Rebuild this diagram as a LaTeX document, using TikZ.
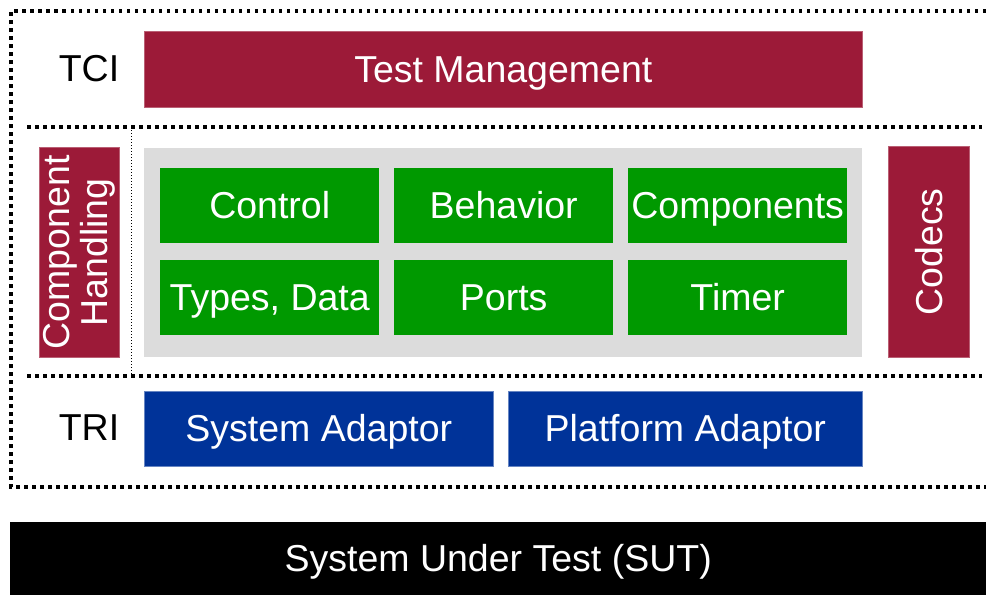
\documentclass[tikz,border=0pt]{standalone}
\usepackage{fontspec}
\setmainfont{Liberation Sans}
\definecolor{maroon}{HTML}{9C1A38}
\definecolor{tgreen}{HTML}{009900}
\definecolor{tblue}{HTML}{003399}
\definecolor{tgray}{HTML}{DCDCDC}
\begin{document}
\begin{tikzpicture}[x=1pt,y=-1pt,
  txt/.style={font=\fontsize{37.5}{39}\selectfont},
  mbox/.style={txt,text=white,inner sep=0pt,anchor=north west,text height=33pt,text depth=7pt},
  redbox/.style={mbox,fill=maroon,draw=maroon!70!white,line width=0.6pt},
  greenbox/.style={mbox,fill=tgreen,minimum width=219pt,minimum height=75pt},
  bluebox/.style={mbox,fill=tblue,draw=tblue!60!white,line width=0.6pt,minimum height=75pt},
  bigdots/.style={line width=3.5pt,dash pattern=on 3.5pt off 4.5pt},
  smalldots/.style={line width=1pt,dash pattern=on 1pt off 2pt}]
\useasboundingbox (0,0) rectangle (986,595);
% outer dotted frame
\coordinate (o1) at (986,11);
\coordinate (o2) at (11,11);
\coordinate (o3) at (11,487);
\coordinate (o4) at (986,487);
\draw[bigdots] (o1) -- (o2) -- (o3) -- (o4);
% inner separators
\coordinate (s1a) at (27,127);
\coordinate (s1b) at (982,127);
\coordinate (s2a) at (27,376);
\coordinate (s2b) at (982,376);
\coordinate (v1) at (131,127);
\coordinate (v2) at (131,376);
\draw[bigdots] (s1a) -- (s1b);
\draw[bigdots] (s2a) -- (s2b);
\draw[smalldots] (v1) -- (v2);
% TCI
\node[txt] (tci) at (89,69) {TCI};
\node[redbox,minimum width=718pt,minimum height=76pt] (tm) at (144,31) {Test Management};
% middle
\node[redbox,minimum width=80pt,minimum height=210pt,text height=0pt,text depth=0pt] (ch) at (38.5,147) {};
\node[txt,text=white,rotate=90,align=center,font=\fontsize{37.5}{38}\selectfont] (chl) at (ch.center) {Component\\Handling};
\node[mbox,fill=tgray,minimum width=718pt,minimum height=209pt,text height=0pt,text depth=0pt] (gray) at (144,148) {};
\node[redbox,minimum width=81pt,minimum height=211pt,text height=0pt,text depth=0pt] (cod) at (888,146) {};
\node[txt,text=white,rotate=90] (codl) at (cod.center) {Codecs};
\node[greenbox] (ctrl) at (160,168) {Control};
\node[greenbox] (beh) at (394,168) {Behavior};
\node[greenbox] (comp) at (628,168) {Components};
\node[greenbox] (types) at (160,260) {Types, Data};
\node[greenbox] (ports) at (394,260) {Ports};
\node[greenbox] (timer) at (628,260) {Timer};
% TRI
\node[txt] (tri) at (89,428) {TRI};
\node[bluebox,minimum width=349pt] (sa) at (144,391) {System Adaptor};
\node[bluebox,minimum width=354pt] (pa) at (508,391) {Platform Adaptor};
% SUT
\node[mbox,fill=black,minimum width=976pt,minimum height=73pt] (sut) at (10,522) {System Under Test (SUT)};
\end{tikzpicture}
\end{document}
